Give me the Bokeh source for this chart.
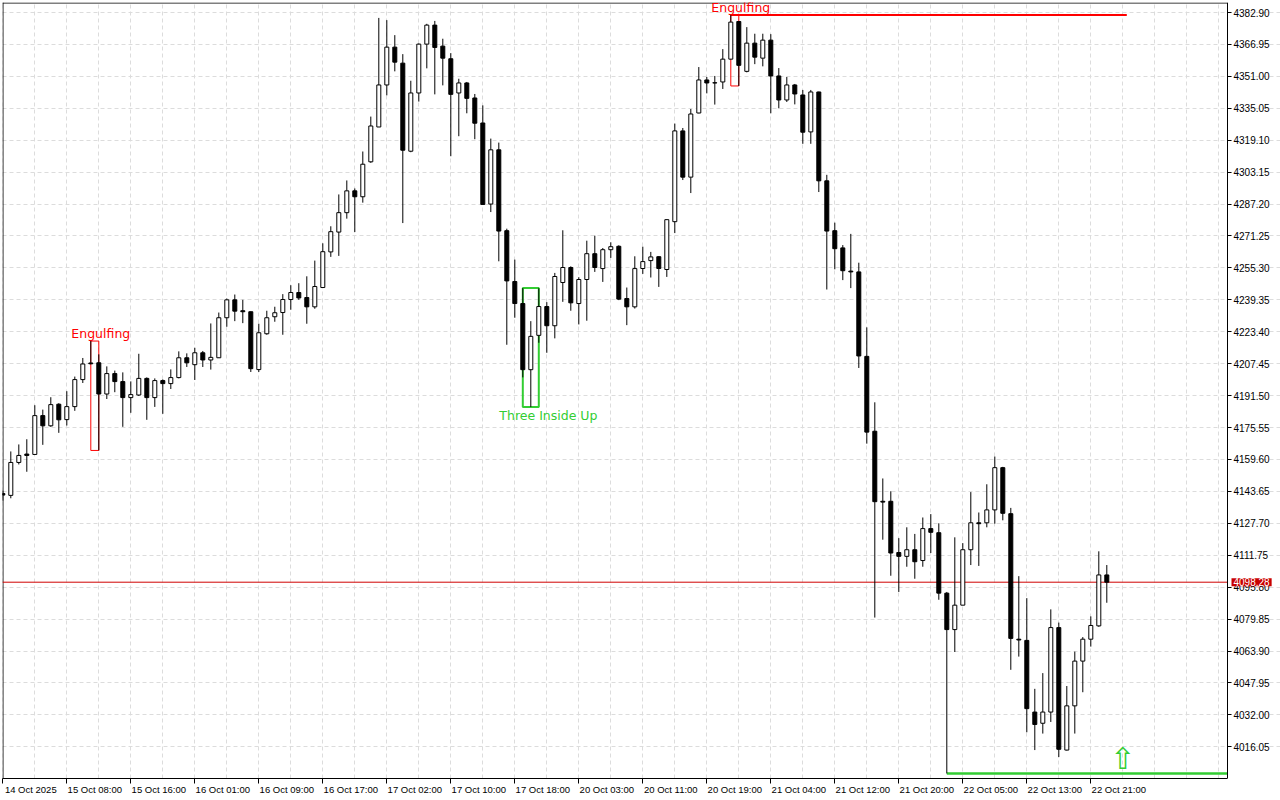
from bokeh.plotting import figure
from bokeh.models import (Range1d, FixedTicker, PrintfTickFormatter, LinearAxis,
                          ColumnDataSource)
from bokeh.core.properties import value
from bokeh.embed import file_html
from bokeh.resources import INLINE

# ---------------- data (XAUUSD H1) ----------------
open_ = [4142.6, 4141.65, 4158.1, 4162.3, 4162.1, 4181.5, 4176.4, 4187.2, 4179.5, 4186.0,
         4199.5, 4207.8, 4207.9, 4192.3, 4202.5, 4198.5, 4190.5, 4191.8, 4200.1, 4190.5,
         4199.0, 4197.5, 4200.5, 4210.4, 4206.95, 4212.9, 4209.3, 4210.4, 4230.4, 4239.35,
         4233.9, 4233.4, 4204.5, 4222.4, 4230.9, 4233.0, 4239.5, 4243.0, 4240.5, 4235.85,
         4245.5, 4263.3, 4273.2, 4282.9, 4293.8, 4290.85, 4308.3, 4325.7, 4346.7, 4365.6,
         4357.6, 4313.6, 4342.7, 4367.1, 4376.6, 4366.1, 4359.8, 4342.7, 4347.7, 4340.2,
         4327.7, 4287.2, 4314.3, 4273.9, 4248.5, 4237.5, 4204.45, 4221.6, 4236.0, 4226.4,
         4248.0, 4255.5, 4237.5, 4249.5, 4262.4, 4254.96, 4264.4, 4266.1, 4240.0, 4235.85,
         4255.0, 4258.95, 4260.9, 4254.5, 4278.4, 4323.75, 4300.65, 4332.7, 4349.2, 4347.8,
         4348.2, 4359.6, 4378.4, 4353.5, 4367.6, 4360.1, 4369.1, 4351.2, 4339.2, 4346.7,
         4341.7, 4323.25, 4343.2, 4298.8, 4273.9, 4265.3, 4253.7, 4253.3, 4211.1, 4173.7,
         4138.7, 4138.7, 4113.1, 4111.2, 4114.5, 4109.1, 4125.05, 4123.0, 4092.8, 4074.6,
         4086.8, 4114.5, 4127.95, 4127.95, 4134.4, 4155.5, 4132.5, 4069.8, 4069.2, 4033.4,
         4027.8, 4033.4, 4075.6, 4014.4, 4036.5, 4058.85, 4069.8, 4076.45, 4101.9]
high = [4144.0, 4163.6, 4167.1, 4169.7, 4186.7, 4184.5, 4190.7, 4187.7, 4193.7, 4201.0,
        4210.3, 4218.75, 4212.1, 4206.1, 4204.0, 4203.1, 4198.6, 4212.4, 4200.6, 4200.1,
        4199.6, 4204.6, 4213.6, 4212.6, 4215.4, 4213.8, 4227.55, 4233.0, 4240.0, 4242.0,
        4239.35, 4233.5, 4227.4, 4233.9, 4235.9, 4242.2, 4246.65, 4247.65, 4251.1, 4258.95,
        4267.6, 4276.1, 4292.0, 4299.0, 4295.0, 4313.45, 4330.9, 4380.2, 4379.1, 4371.6,
        4362.1, 4348.8, 4367.45, 4377.25, 4378.7, 4369.8, 4362.6, 4349.8, 4348.2, 4342.2,
        4336.5, 4319.9, 4317.9, 4274.9, 4259.45, 4245.2, 4228.7, 4245.15, 4238.2, 4252.8,
        4274.1, 4256.1, 4250.65, 4268.9, 4271.4, 4265.25, 4268.1, 4266.6, 4245.5, 4261.1,
        4265.9, 4263.3, 4261.1, 4279.55, 4327.4, 4325.2, 4334.7, 4355.65, 4350.7, 4351.2,
        4364.6, 4381.6, 4378.6, 4375.6, 4372.3, 4372.3, 4372.1, 4355.15, 4350.7, 4347.2,
        4344.2, 4344.2, 4343.35, 4301.8, 4277.9, 4266.7, 4272.3, 4257.9, 4225.6, 4188.15,
        4150.1, 4143.7, 4120.3, 4125.7, 4122.4, 4130.6, 4132.3, 4127.7, 4093.4, 4120.7,
        4117.8, 4143.3, 4133.1, 4147.2, 4161.05, 4155.9, 4135.4, 4101.3, 4090.3, 4045.0,
        4052.85, 4084.7, 4078.1, 4046.4, 4063.6, 4070.85, 4081.2, 4113.7, 4106.85]
low = [4139.0, 4140.2, 4157.1, 4153.45, 4161.9, 4166.9, 4175.9, 4172.9, 4176.55, 4183.9,
       4197.8, 4207.1, 4164.1, 4189.8, 4193.2, 4175.9, 4182.9, 4191.3, 4179.4, 4185.85,
       4182.4, 4194.8, 4200.1, 4205.8, 4199.3, 4205.8, 4204.5, 4210.3, 4225.9, 4228.7,
       4227.7, 4203.3, 4203.3, 4221.9, 4228.4, 4221.9, 4234.4, 4239.35, 4227.4, 4234.9,
       4245.3, 4260.8, 4261.3, 4279.9, 4273.2, 4287.9, 4307.8, 4325.7, 4341.5, 4353.5,
       4277.7, 4313.1, 4338.4, 4355.0, 4342.0, 4346.5, 4311.1, 4321.1, 4332.55, 4319.6,
       4286.85, 4283.2, 4258.6, 4216.9, 4230.4, 4200.6, 4185.85, 4217.9, 4212.9, 4220.1,
       4238.35, 4233.9, 4227.05, 4228.9, 4253.3, 4248.3, 4260.3, 4239.2, 4226.7, 4235.0,
       4252.3, 4250.5, 4245.8, 4250.8, 4272.7, 4299.2, 4292.7, 4332.55, 4342.5, 4336.9,
       4344.7, 4359.5, 4346.2, 4353.0, 4357.1, 4356.0, 4332.55, 4335.05, 4338.2, 4337.0,
       4317.3, 4317.3, 4293.2, 4244.5, 4254.6, 4249.2, 4245.2, 4205.3, 4167.5, 4080.6,
       4119.5, 4101.5, 4093.4, 4106.0, 4100.0, 4106.0, 4112.85, 4089.5, 4002.7, 4063.4,
       4086.8, 4106.85, 4106.4, 4125.7, 4127.5, 4129.2, 4054.5, 4061.1, 4023.3, 4014.4,
       4022.65, 4028.45, 4010.9, 4014.2, 4022.65, 4043.3, 4066.1, 4076.0, 4088.0]
close = [4141.8, 4158.1, 4161.6, 4161.6, 4181.5, 4176.4, 4187.0, 4179.4, 4186.0, 4199.5,
         4207.3, 4207.4, 4192.3, 4202.5, 4198.5, 4190.5, 4192.0, 4200.1, 4190.5, 4199.0,
         4197.5, 4200.5, 4210.4, 4207.9, 4212.9, 4209.3, 4210.6, 4230.4, 4239.35, 4233.7,
         4233.4, 4204.96, 4222.9, 4230.4, 4232.9, 4239.5, 4243.0, 4240.3, 4235.85, 4246.0,
         4263.4, 4273.4, 4282.9, 4293.8, 4290.85, 4307.1, 4326.2, 4346.7, 4365.6, 4358.1,
         4314.1, 4342.7, 4367.1, 4376.6, 4365.45, 4360.1, 4342.0, 4347.7, 4340.0, 4327.6,
         4287.0, 4314.3, 4273.7, 4248.8, 4237.5, 4204.45, 4221.1, 4236.0, 4226.4, 4251.0,
         4255.5, 4237.85, 4249.5, 4262.4, 4255.5, 4264.4, 4265.9, 4239.7, 4235.85, 4254.96,
         4258.45, 4260.8, 4255.0, 4279.4, 4323.75, 4300.65, 4332.2, 4349.2, 4347.7, 4347.7,
         4359.6, 4378.1, 4356.5, 4367.6, 4360.6, 4369.1, 4351.2, 4339.2, 4346.7, 4342.2,
         4323.1, 4343.2, 4298.8, 4273.7, 4264.9, 4253.9, 4253.3, 4211.3, 4173.25, 4138.5,
         4138.3, 4112.85, 4111.2, 4114.5, 4108.5, 4125.05, 4123.2, 4092.8, 4074.6, 4086.8,
         4114.5, 4127.95, 4127.5, 4134.4, 4155.5, 4132.7, 4070.2, 4069.4, 4035.1, 4027.2,
         4033.4, 4075.6, 4014.8, 4036.5, 4058.85, 4069.8, 4076.65, 4101.9, 4098.28]

x_tick_labels = ["14 Oct 2025", "15 Oct 08:00", "15 Oct 16:00", "16 Oct 01:00",
                 "16 Oct 09:00", "16 Oct 17:00", "17 Oct 02:00", "17 Oct 10:00",
                 "17 Oct 18:00", "20 Oct 03:00", "20 Oct 11:00", "20 Oct 19:00",
                 "21 Oct 04:00", "21 Oct 12:00", "21 Oct 20:00", "22 Oct 05:00",
                 "22 Oct 13:00", "22 Oct 21:00"]
y_ticks = [4016.05, 4032.00, 4047.95, 4063.90, 4079.85, 4095.80, 4111.75, 4127.70,
           4143.65, 4159.60, 4175.55, 4191.50, 4207.45, 4223.40, 4239.35, 4255.30,
           4271.25, 4287.20, 4303.15, 4319.10, 4335.05, 4351.00, 4366.95, 4382.90]
current_price = 4098.28

# candlestick patterns: name, first bar, last bar, bullish?
pattern_names = ["Engulfing", "Three Inside Up", "Engulfing"]
pattern_first = [11, 65, 91]
pattern_last = [12, 67, 92]
pattern_bull = [False, True, False]
resistance_from = 91        # level = top of the last engulfing box
resistance_to = 140.5
support_from = 118          # level = low of that bar
signal_bar = 140
signal_price = 4010.2

# ---------------- layout / styling ----------------
RED = "#ff0000"
GREEN = "#32cd32"
FONT = "Liberation Sans"
W, H = 1280, 800
PX_PER_BAR = 8.0
LEFT, TOP, BOTTOM = 2, 2, 22
X0 = -0.0375
X1 = X0 + (W - LEFT) / PX_PER_BAR
AXIS_X = X0 + 1225 / PX_PER_BAR      # where the price scale sits
Y0, Y1 = 4000.2, 4387.9

n = len(close)
idx = list(range(n))

p = figure(width=W, height=H, output_backend="svg", toolbar_location=None,
           x_range=Range1d(X0, X1), y_range=Range1d(Y0, Y1),
           y_axis_location="right", min_border_left=LEFT, min_border_top=TOP,
           min_border_right=0, min_border_bottom=BOTTOM)
p.background_fill_color = "white"
p.border_fill_color = "white"
p.outline_line_color = None

# price axis placed inside the frame, labels to its right
yax = p.yaxis[0]
yax.fixed_location = AXIS_X
yax.ticker = FixedTicker(ticks=y_ticks)
yax.formatter = PrintfTickFormatter(format="%.2f")
yax.axis_line_color = "black"
yax.major_tick_line_color = "black"
yax.major_tick_in = 0
yax.major_tick_out = 4
yax.minor_tick_line_color = None
yax.major_label_text_font = FONT
yax.major_label_text_font_size = "10px"
yax.major_label_text_color = "black"
yax.major_label_standoff = 2

# time axis: tick marks on the bars, labels starting at each tick
xax = p.xaxis[0]
xax.ticker = FixedTicker(ticks=[8 * k for k in range(len(x_tick_labels))])
xax.bounds = (X0, AXIS_X)
xax.axis_line_color = "black"
xax.major_tick_line_color = "black"
xax.major_tick_in = 0
xax.major_tick_out = 5
xax.minor_tick_line_color = None
xax.major_label_text_font_size = "1px"
xax.major_label_text_color = None
xax.major_label_standoff = 0

lab_pos = [8 * k + 3.5 for k in range(len(x_tick_labels))]
xlab = LinearAxis(ticker=FixedTicker(ticks=lab_pos),
                  major_label_overrides={pos: lab for pos, lab in zip(lab_pos, x_tick_labels)},
                  axis_line_color=None, major_tick_line_color=None,
                  minor_tick_line_color=None, major_tick_in=0, major_tick_out=0,
                  major_label_standoff=0, major_label_text_font=FONT,
                  major_label_text_font_size="9.5px", major_label_text_color="black")
p.add_layout(xlab, "below")

# grid
p.xgrid.ticker = FixedTicker(ticks=list(range(0, 153, 4)))
p.ygrid.ticker = FixedTicker(ticks=y_ticks)
p.ygrid.bounds = (X0, AXIS_X)
for g in (p.xgrid[0], p.ygrid[0]):
    g.grid_line_color = "#dcdcdc"
    g.grid_line_dash = "4 3"
    g.grid_line_width = 1

# frame border (left and top; bottom is the time axis, right is the price axis)
p.segment(x0=[X0 + 0.06, X0], y0=[Y0, Y1 - 0.25], x1=[X0 + 0.06, AXIS_X],
          y1=[Y1, Y1 - 0.25], line_color="black", line_width=1)

# pattern boxes (below candles)
box_top = [max(high[a:b + 1]) for a, b in zip(pattern_first, pattern_last)]
box_bot = [min(low[a:b + 1]) for a, b in zip(pattern_first, pattern_last)]
box_col = [GREEN if b else RED for b in pattern_bull]
box_w = [2 if b else 1 for b in pattern_bull]
p.quad(left=pattern_first, right=pattern_last, top=box_top, bottom=box_bot,
       fill_alpha=0, line_color=box_col, line_width=box_w)

# levels
res_level = box_top[2]
sup_level = low[support_from]
p.segment(x0=[resistance_from], y0=[res_level], x1=[resistance_to], y1=[res_level],
          line_color=RED, line_width=2)
p.segment(x0=[support_from], y0=[sup_level], x1=[AXIS_X], y1=[sup_level],
          line_color=GREEN, line_width=2.5)

# current price line
p.segment(x0=[X0], y0=[current_price], x1=[AXIS_X], y1=[current_price],
          line_color="#d00000", line_width=1)

# candles
src = ColumnDataSource(dict(
    x=idx, high=high, low=low,
    top=[max(o, c) for o, c in zip(open_, close)],
    bottom=[min(o, c) for o, c in zip(open_, close)],
    fill=["white" if c >= o else "black" for o, c in zip(open_, close)],
))
p.segment(x0="x", y0="low", x1="x", y1="high", source=src, line_color="black",
          line_width=1)
p.vbar(x="x", width=0.5, top="top", bottom="bottom", fill_color="fill",
       line_color="black", line_width=1, source=src)

# pattern labels
lab_x = [pattern_last[0] + 0.25, pattern_last[1] + 1.2, pattern_last[2] + 0.25]
for k in range(3):
    bull = pattern_bull[k]
    p.text(x=[lab_x[k]], y=[box_bot[k] if bull else box_top[k]],
           text=[pattern_names[k]], text_font=value("DejaVu Sans"),
           text_font_size="12.5px", text_color=GREEN if bull else RED,
           text_align="center", text_baseline="top" if bull else "bottom",
           y_offset=1 if bull else 0)

# signal arrow
p.text(x=[signal_bar], y=[signal_price], text=["\u21e7"], text_font=value("DejaVu Sans"),
       text_font_size="30px", text_color=GREEN, text_align="center",
       text_baseline="middle")

# current price tag on the price scale (drawn above the scale labels)
tag = p.text(x=[AXIS_X], y=[current_price], x_offset=4, text=[f"{current_price:.2f}"],
             text_font=value(FONT), text_font_size="10px", text_color="white",
             text_baseline="middle", text_align="left",
             background_fill_color="#c80000", padding=(2, 0))
tag.level = "overlay"

open("out.html", "w").write(file_html(p, INLINE))
